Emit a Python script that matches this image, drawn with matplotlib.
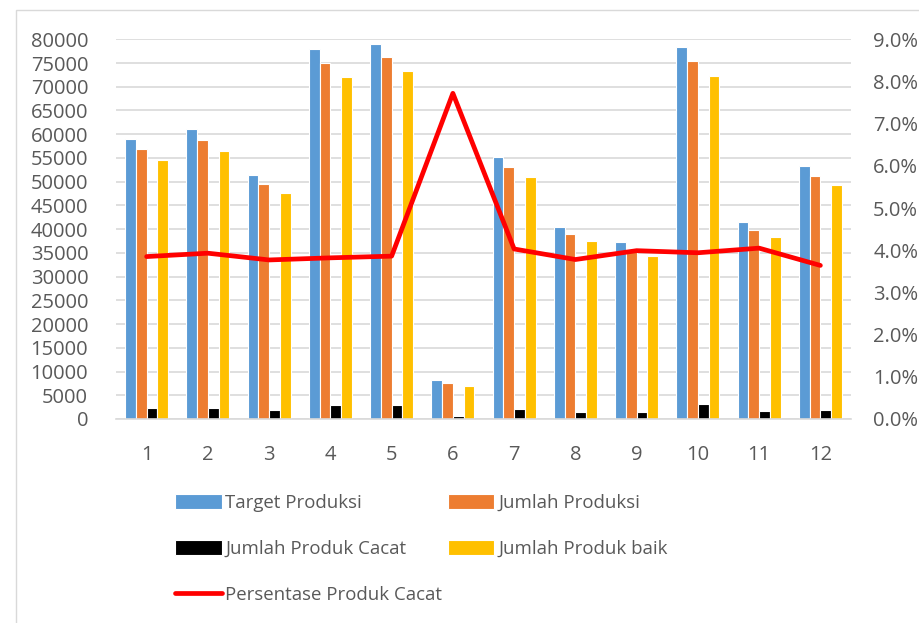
import matplotlib
matplotlib.use("Agg")
import matplotlib.pyplot as plt
import numpy as np
from matplotlib.ticker import FuncFormatter, MultipleLocator
from matplotlib.patches import Rectangle

months = ["1", "2", "3", "4", "5", "6", "7", "8", "9", "10", "11", "12"]
target_produksi = [59000, 61000, 51400, 77900, 79100, 8200, 55300, 40400, 37300, 78400, 41500, 53200]
jumlah_produksi = [56900, 58700, 49500, 75000, 76200, 7600, 53100, 38900, 35700, 75400, 39900, 51300]
jumlah_cacat = [2250, 2270, 1900, 2880, 3000, 630, 2170, 1480, 1480, 3090, 1690, 1900]
jumlah_baik = [54600, 56400, 47600, 72000, 73300, 6950, 51000, 37400, 34300, 72300, 38300, 49300]
persentase_cacat = [3.85, 3.93, 3.77, 3.82, 3.86, 7.72, 4.03, 3.78, 3.99, 3.94, 4.05, 3.64]

labels = ["Target Produksi", "Jumlah Produksi", "Jumlah Produk Cacat",
          "Jumlah Produk baik", "Persentase Produk Cacat"]
colors = ["#5B9BD5", "#ED7D31", "#000000", "#FFC000"]
text_color = "#595959"

plt.rcParams['font.family'] = ['Open Sans', 'DejaVu Sans']
fs = 14.5

W, H = 919, 623
fig = plt.figure(figsize=(W / 100, H / 100), dpi=100)

# chart-area border (light grey, runs off the right and bottom edges)
fig.patches.append(Rectangle((15.5 / W, -0.05), 1.2, 1.05 - 10.5 / H, transform=fig.transFigure,
                             fill=False, edgecolor="#D9D9D9", linewidth=1.0))

ax = fig.add_axes([116 / W, 1 - 419 / H, (851 - 116) / W, (419 - 39.3) / H])
x = np.arange(len(months))
w = 0.175
series = [target_produksi, jumlah_produksi, jumlah_cacat, jumlah_baik]
handles = []
for i, (vals, c, lab) in enumerate(zip(series, colors, labels[:4])):
    b = ax.bar(x + (i - 1.5) * w, vals, w, color=c, edgecolor="white", linewidth=0.8, label=lab, zorder=2)
    handles.append(b)

ax.set_xlim(-0.5, 11.5)
ax.set_ylim(0, 80000)
ax.yaxis.set_major_locator(MultipleLocator(5000))
ax.grid(axis="y", color="#D9D9D9", linewidth=1.2, zorder=0)
ax.set_axisbelow(True)
for s in ["top", "right", "left"]:
    ax.spines[s].set_visible(False)
ax.spines["bottom"].set_color("#D9D9D9")
ax.spines["bottom"].set_linewidth(1.2)
ax.set_xticks(x)
ax.set_xticklabels(months)
ax.tick_params(axis="both", length=0, labelsize=fs, colors=text_color)
ax.tick_params(axis="x", pad=19)
ax.tick_params(axis="y", pad=20)

ax2 = ax.twinx()
ax2.set_ylim(0, 9)
ax2.yaxis.set_major_locator(MultipleLocator(1))
ax2.yaxis.set_major_formatter(FuncFormatter(lambda v, p: f"{v:.1f}%"))
ax2.plot(x, persentase_cacat, color="#FF0000", linewidth=3.4, solid_joinstyle="round",
         solid_capstyle="round", zorder=3, label=labels[4])
for s in ["top", "right", "left", "bottom"]:
    ax2.spines[s].set_visible(False)
ax2.tick_params(axis="y", length=0, labelsize=fs, colors=text_color, pad=16)

line_handle = ax2.get_lines()[0]
leg_handles = [handles[0], handles[2], line_handle, handles[1], handles[3]]
leg_labels = [labels[0], labels[2], labels[4], labels[1], labels[3]]
leg = fig.legend(leg_handles, leg_labels, ncol=2, loc="upper left",
                 bbox_to_anchor=(175 / W, 1 - 494 / H), frameon=False,
                 fontsize=13.4, handlelength=2.5, handleheight=0.85,
                 handletextpad=0.2, labelspacing=1.5, columnspacing=0.3,
                 borderpad=0, borderaxespad=0)
for t in leg.get_texts():
    t.set_color(text_color)

fig.savefig("out.png", dpi=100)
